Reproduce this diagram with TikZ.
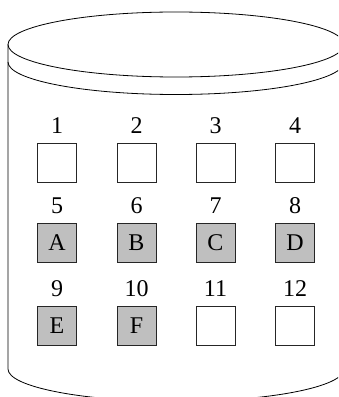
\documentclass[tikz,border=0pt]{standalone}
\usepackage{fontspec}
\setmainfont{Liberation Serif}
\usetikzlibrary{positioning}
\tikzset{
  cell/.style={draw=black!85, line width=0.8pt, minimum size=39pt, inner sep=0pt,
    font=\fontsize{24}{24}\selectfont},
  full/.style={cell, fill=black!25},
  num/.style={font=\fontsize{24}{24}\selectfont, inner sep=0pt, anchor=base},
  rim/.style={line width=0.8pt}
}
\begin{document}
\begin{tikzpicture}[x=1pt,y=1pt]
\useasboundingbox (0,0) rectangle (338,397);
\clip (0,0) rectangle (338,397);
% cylinder
\draw[rim] (176,352.5) ellipse [x radius=168pt, y radius=32.5pt];
\draw[rim] (8,335) arc[start angle=180, end angle=360, x radius=168pt, y radius=32.5pt];
\draw[rim] (8,352.5) -- (8,28) arc[start angle=180, end angle=360, x radius=168pt, y radius=32.5pt] -- (344,352.5);
% cells
\foreach \n/\x/\y/\t/\s in {1/57/234/{}/cell, 2/136.5/234/{}/cell, 3/215.5/234/{}/cell, 4/295/234/{}/cell,
  5/57/154/A/full, 6/136.5/154/B/full, 7/215.5/154/C/full, 8/295/154/D/full,
  9/57/71/E/full, 10/136.5/71/F/full, 11/215.5/71/{}/cell, 12/295/71/{}/cell}{
  \node[\s] (c\n) at (\x,\y) {\t};
  \node[num] (n\n) at ([yshift=10pt]c\n.north) {\n};
}
\end{tikzpicture}
\end{document}
